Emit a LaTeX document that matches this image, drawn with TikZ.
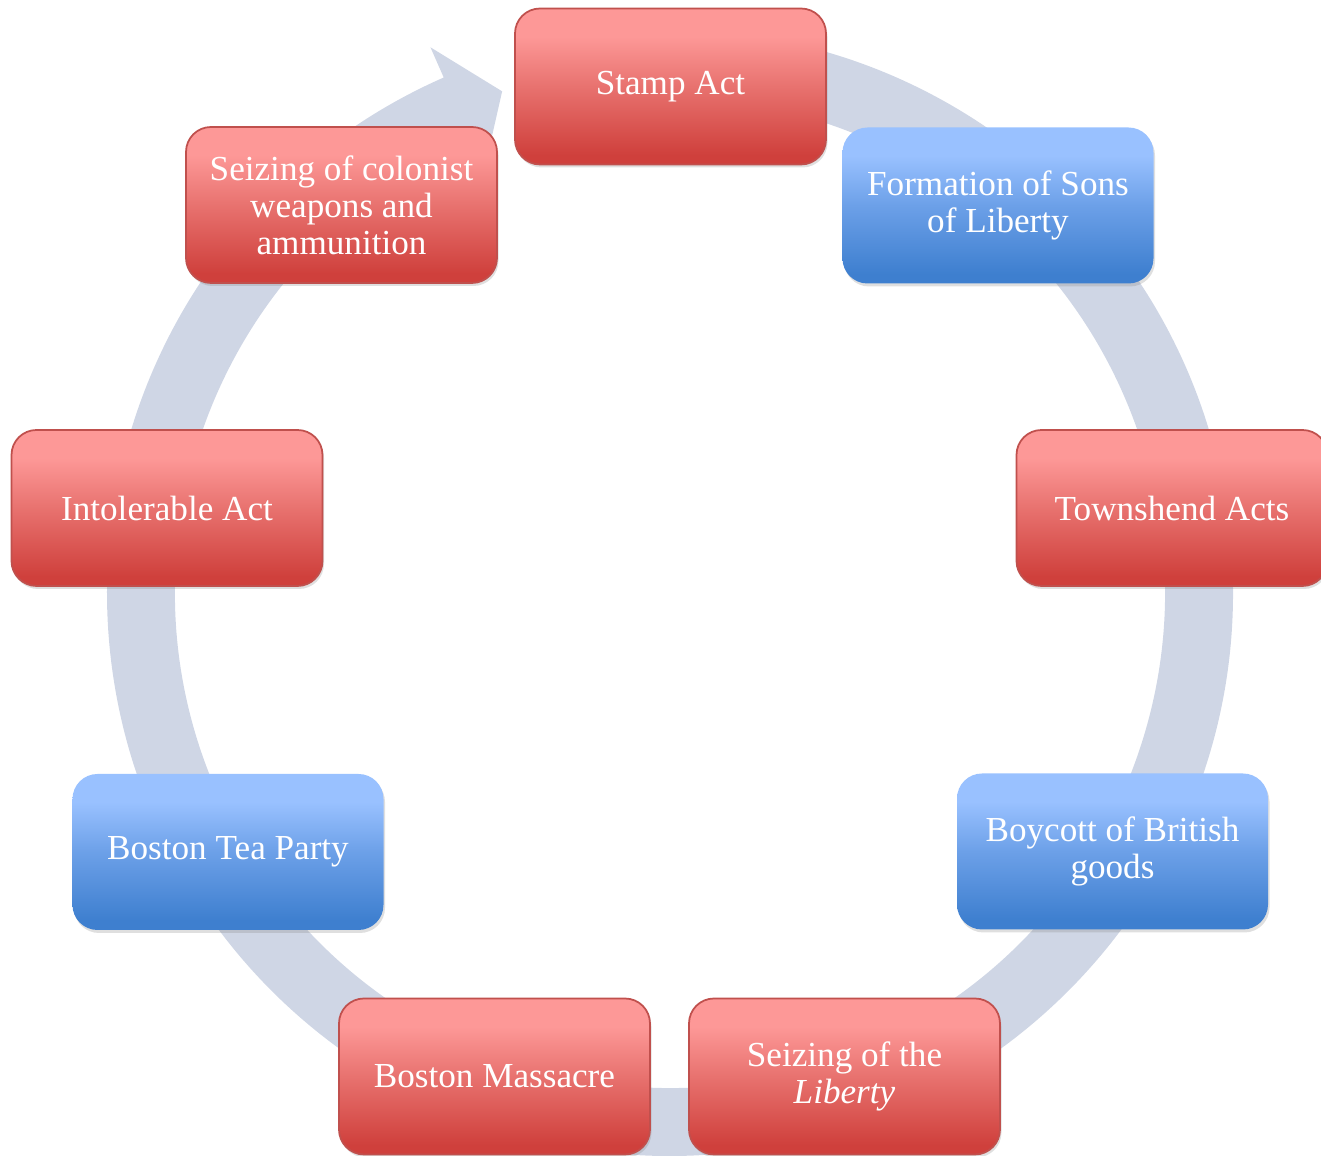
\documentclass[tikz,border=0pt]{standalone}
\usepackage{fontspec}
\setmainfont{Liberation Serif}
\usetikzlibrary{calc,shadows}
\definecolor{rtop}{RGB}{253,152,151}
\definecolor{rmid}{RGB}{232,114,111}
\definecolor{rbot}{RGB}{207,64,60}
\definecolor{rline}{RGB}{192,80,77}
\definecolor{btop}{RGB}{153,193,255}
\definecolor{bmid}{RGB}{108,160,232}
\definecolor{bbot}{RGB}{62,127,207}
\definecolor{ringc}{RGB}{207,214,229}
\pgfdeclareverticalshading{redgrad}{100bp}{color(0bp)=(rbot); color(28bp)=(rbot); color(50bp)=(rmid); color(66bp)=(rtop); color(100bp)=(rtop)}
\pgfdeclareverticalshading{bluegrad}{100bp}{color(0bp)=(bbot); color(28bp)=(bbot); color(50bp)=(bmid); color(66bp)=(btop); color(100bp)=(btop)}
\tikzset{
  evbox/.style={rounded corners=0.25cm, minimum width=3.11cm, minimum height=1.56cm,
    align=center, text=white, font=\fontsize{10}{10.5}\selectfont,
    drop shadow={shadow xshift=0.015cm, shadow yshift=-0.03cm, opacity=0.25}},
  redbox/.style={evbox, shading=redgrad, draw=rline, line width=0.5pt},
  bluebox/.style={evbox, shading=bluegrad},
}
\begin{document}
\begin{tikzpicture}
\useasboundingbox (0,0) rectangle (13.21,-11.56);
\coordinate (C) at (6.70,-5.93);
\fill[ringc] ($(C)+(95:5.63)$) arc[start angle=95, end angle=-246.3, radius=5.63]
  -- ($(C)+(113.7:5.96)$) -- ($(C)+(108.5:5.29)$) -- ($(C)+(113.7:4.62)$)
  -- ($(C)+(113.7:4.95)$) arc[start angle=113.7, end angle=455, radius=4.95] -- cycle;

\node[redbox]  (sa) at (6.705,-0.865) {Stamp Act};
\node[bluebox] (fs) at (9.98,-2.055) {Formation of Sons\\of Liberty};
\node[redbox]  (ta) at (11.72,-5.08) {Townshend Acts};
\node[bluebox] (bb) at (11.125,-8.515) {Boycott of British\\goods};
\node[redbox]  (sl) at (8.445,-10.765) {Seizing of the\\\textit{Liberty}};
\node[redbox]  (bm) at (4.945,-10.765) {Boston Massacre};
\node[bluebox] (tp) at (2.28,-8.52) {Boston Tea Party};
\node[redbox]  (ia) at (1.67,-5.08) {Intolerable Act};
\node[redbox]  (sc) at (3.415,-2.05) {Seizing of colonist\\weapons and\\ammunition};
\end{tikzpicture}
\end{document}
